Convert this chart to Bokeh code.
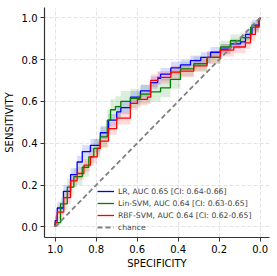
from bokeh.plotting import figure
from bokeh.models import Range1d, Legend, LegendItem, FixedTicker, PrintfTickFormatter
from bokeh.embed import file_html
from bokeh.resources import INLINE

lr_spec = [1.0, 1.0, 0.99, 0.96, 0.925, 0.893, 0.868, 0.828, 0.78, 0.74, 0.70, 0.68, 0.633, 0.584, 0.535, 0.50, 0.486, 0.436, 0.389, 0.34, 0.29, 0.242, 0.194, 0.145, 0.096, 0.072, 0.04, 0.007, 0.0]
lr_sens = [0.0, 0.03, 0.09, 0.17, 0.25, 0.31, 0.36, 0.39, 0.45, 0.51, 0.55, 0.57, 0.62, 0.65, 0.69, 0.71, 0.73, 0.76, 0.775, 0.795, 0.81, 0.835, 0.85, 0.875, 0.885, 0.92, 0.965, 0.995, 1.0]
lr_lo = [0.0, 0.0, 0.06, 0.14, 0.22, 0.28, 0.33, 0.36, 0.42, 0.48, 0.52, 0.54, 0.59, 0.62, 0.66, 0.68, 0.70, 0.73, 0.75, 0.77, 0.785, 0.81, 0.825, 0.85, 0.86, 0.895, 0.94, 0.98, 0.99]
lr_hi = [0.02, 0.06, 0.12, 0.20, 0.28, 0.34, 0.39, 0.42, 0.48, 0.54, 0.58, 0.60, 0.65, 0.68, 0.72, 0.74, 0.76, 0.79, 0.80, 0.82, 0.835, 0.86, 0.875, 0.90, 0.91, 0.945, 0.99, 1.0, 1.0]

lin_spec = [1.0, 1.0, 0.974, 0.941, 0.909, 0.868, 0.836, 0.812, 0.78, 0.746, 0.73, 0.706, 0.68, 0.633, 0.584, 0.535, 0.486, 0.438, 0.389, 0.324, 0.259, 0.194, 0.145, 0.096, 0.047, 0.005, 0.0]
lin_sens = [0.0, 0.02, 0.11, 0.19, 0.24, 0.285, 0.335, 0.375, 0.43, 0.51, 0.56, 0.575, 0.60, 0.615, 0.635, 0.645, 0.665, 0.705, 0.755, 0.78, 0.81, 0.86, 0.89, 0.905, 0.955, 0.995, 1.0]
lin_lo = [0.0, 0.0, 0.08, 0.15, 0.20, 0.24, 0.29, 0.33, 0.38, 0.46, 0.51, 0.525, 0.55, 0.57, 0.59, 0.60, 0.62, 0.66, 0.72, 0.745, 0.78, 0.83, 0.86, 0.88, 0.93, 0.98, 0.99]
lin_hi = [0.02, 0.05, 0.14, 0.23, 0.28, 0.33, 0.38, 0.42, 0.48, 0.56, 0.61, 0.625, 0.65, 0.66, 0.68, 0.69, 0.71, 0.75, 0.79, 0.815, 0.84, 0.89, 0.92, 0.93, 0.98, 1.0, 1.0]

rbf_spec = [1.0, 1.0, 0.99, 0.958, 0.925, 0.893, 0.86, 0.828, 0.795, 0.78, 0.74, 0.70, 0.633, 0.599, 0.55, 0.534, 0.50, 0.436, 0.389, 0.324, 0.259, 0.194, 0.129, 0.072, 0.047, 0.023, 0.005, 0.0]
rbf_sens = [0.0, 0.02, 0.07, 0.14, 0.22, 0.255, 0.295, 0.335, 0.375, 0.41, 0.47, 0.52, 0.59, 0.61, 0.62, 0.70, 0.715, 0.74, 0.745, 0.77, 0.81, 0.845, 0.86, 0.88, 0.92, 0.96, 0.995, 1.0]
rbf_lo = [0.0, 0.0, 0.04, 0.11, 0.19, 0.225, 0.265, 0.305, 0.345, 0.38, 0.44, 0.49, 0.56, 0.58, 0.59, 0.67, 0.685, 0.71, 0.715, 0.74, 0.78, 0.815, 0.83, 0.85, 0.89, 0.93, 0.98, 0.99]
rbf_hi = [0.02, 0.05, 0.10, 0.17, 0.25, 0.285, 0.325, 0.365, 0.405, 0.44, 0.50, 0.55, 0.62, 0.64, 0.65, 0.73, 0.745, 0.77, 0.775, 0.80, 0.84, 0.875, 0.89, 0.91, 0.95, 0.99, 1.0, 1.0]

chance_x = [1.0, 0.0]
chance_y = [0.0, 1.0]

labels = ["LR, AUC 0.65 [CI: 0.64-0.66]",
          "Lin-SVM, AUC 0.64 [CI: 0.63-0.65]",
          "RBF-SVM, AUC 0.64 [CI: 0.62-0.65]",
          "chance"]
ticks = [0.0, 0.2, 0.4, 0.6, 0.8, 1.0]
x_label = "SPECIFICITY"
y_label = "SENSITIVITY"

FONT = "DejaVu Sans"

p = figure(width=277, height=276, output_backend="svg", toolbar_location=None,
           x_range=Range1d(1.0522, -0.0454), y_range=Range1d(-0.051, 1.049),
           min_border_left=44, min_border_right=8, min_border_top=7, min_border_bottom=39)
p.outline_line_color = None
p.background_fill_color = "white"

for ax, lab, ls in ((p.xaxis[0], x_label, 2), (p.yaxis[0], y_label, 4)):
    ax.ticker = FixedTicker(ticks=ticks)
    ax.formatter = PrintfTickFormatter(format="%.1f")
    ax.axis_label = lab
    ax.axis_label_text_font = FONT
    ax.axis_label_text_font_size = "10px"
    ax.axis_label_text_font_style = "normal"
    ax.axis_label_text_color = "black"
    ax.axis_label_standoff = ls
    ax.major_label_text_font = FONT
    ax.major_label_text_font_size = "10px"
    ax.major_label_text_color = "black"
    ax.minor_tick_line_color = None
    ax.major_tick_out = 4
    ax.major_tick_in = 0
    ax.axis_line_width = 1.2
    ax.axis_line_color = "#333333"
    ax.major_tick_line_color = "#333333"
    ax.major_label_standoff = 3

for g in (p.xgrid[0], p.ygrid[0]):
    g.ticker = FixedTicker(ticks=ticks)
    g.grid_line_color = "#cccccc"
    g.grid_line_dash = "4 2"
    g.grid_line_width = 0.8
    g.grid_line_alpha = 0.7

colors = ["#0000ff", "#008000", "#ff0000"]
series = [(lr_spec, lr_sens, lr_lo, lr_hi), (lin_spec, lin_sens, lin_lo, lin_hi), (rbf_spec, rbf_sens, rbf_lo, rbf_hi)]

for (sx, sy, lo, hi), c in zip(series, colors):
    p.varea_step(x=sx, y1=lo, y2=hi, step_mode="after", fill_color=c, fill_alpha=0.14)

renderers = []
for (sx, sy, lo, hi), c in zip(series, colors):
    r = p.step(x=sx, y=sy, mode="after", line_color=c, line_width=1.3)
    renderers.append(r)

rc = p.line(x=chance_x, y=chance_y, line_color="#808080", line_width=1.8, line_dash="5 3")
renderers.append(rc)

legend = Legend(items=[LegendItem(label=l, renderers=[r]) for l, r in zip(labels, renderers)],
                location=(53, 4), border_line_color=None, background_fill_alpha=0.0,
                label_text_font=FONT, label_text_font_size="7.7px",
                label_height=12, glyph_height=12, glyph_width=17, spacing=0,
                padding=2, margin=0, label_standoff=4)
p.add_layout(legend, "center")

open("out.html", "w").write(file_html(p, INLINE))
